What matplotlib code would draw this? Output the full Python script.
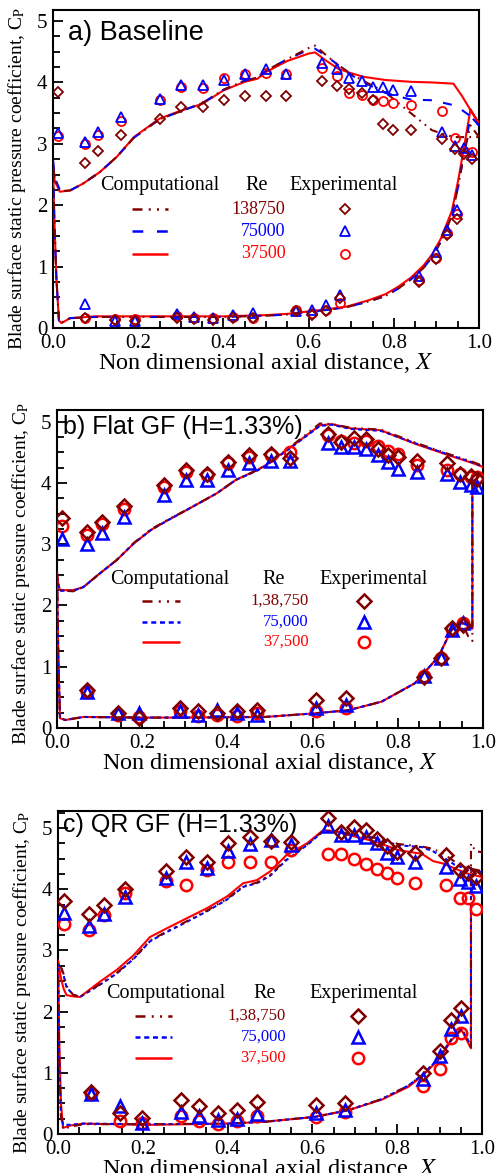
import numpy as np
import matplotlib
matplotlib.use('Agg')
import matplotlib.pyplot as plt
from matplotlib.ticker import MultipleLocator, FormatStrFormatter

plt.rcParams['font.family'] = ['Liberation Serif', 'DejaVu Serif']
plt.rcParams['mathtext.fontset'] = 'stix'

MAROON = '#800000'
BLUE = '#0000FF'
RED = '#FF0000'
NAN = np.nan

RE_LABELS_A = ['138750', '75000', '37500']
RE_LABELS_BC = ['1,38,750', '75,000', '37,500']
TITLES = ['a) Baseline', 'b) Flat GF (H=1.33%)', 'c) QR GF (H=1.33%)']

# ---------------- Panel a : computational ----------------
A_UP_X = [0.0, 0.004, 0.016, 0.04, 0.07, 0.11, 0.15, 0.19, 0.25, 0.30, 0.35, 0.40, 0.45, 0.48,
          0.50, 0.55, 0.60, 0.615, 0.64, 0.67, 0.70, 0.73, 0.78, 0.84, 0.89, 0.94, 0.96, 0.98, 1.0]
A_UP_138750 = [2.70, 2.42, 2.23, 2.24, 2.35, 2.54, 2.79, 3.10, 3.40, 3.53, 3.66, 3.88, 4.03, 4.08,
               4.19, 4.38, 4.56, 4.60, 4.45, 4.28, 4.14, 4.02, 3.84, 3.50, 3.22, 3.11, 3.11, 3.11, 3.11]
A_UP_75000 = [2.75, 2.45, 2.25, 2.24, 2.35, 2.54, 2.79, 3.10, 3.40, 3.53, 3.66, 3.88, 4.03, 4.08,
              4.19, 4.38, 4.53, 4.55, 4.44, 4.28, 4.12, 4.00, 3.83, 3.72, 3.71, 3.63, 3.55, 3.45, 3.30]
A_UP_37500 = [2.68, 2.40, 2.22, 2.24, 2.35, 2.54, 2.79, 3.11, 3.41, 3.54, 3.65, 3.87, 4.01, 4.06,
              4.17, 4.35, 4.47, 4.49, 4.36, 4.22, 4.15, 4.09, 4.04, 4.01, 4.00, 3.98, 3.78, 3.55, 3.33]
A_LO_X = [0.0, 0.003, 0.008, 0.014, 0.02, 0.04, 0.10, 0.20, 0.30, 0.40, 0.50, 0.55, 0.60, 0.65,
          0.69, 0.74, 0.78, 0.81, 0.84, 0.87, 0.89, 0.91, 0.936, 0.951, 0.965, 0.98, 1.0]
A_LO_138750 = [2.70, 1.8, 0.8, 0.12, 0.09, 0.16, 0.18, 0.18, 0.18, 0.18, 0.20, 0.22, 0.26, 0.30,
               0.34, 0.43, 0.52, 0.64, 0.79, 0.98, 1.16, 1.40, 1.82, 2.30, 2.85, 3.30, 3.11]
A_LO_75000 = [2.75, 1.8, 0.8, 0.12, 0.09, 0.16, 0.18, 0.18, 0.18, 0.18, 0.20, 0.22, 0.26, 0.30,
              0.34, 0.43, 0.52, 0.64, 0.79, 0.98, 1.16, 1.40, 1.82, 2.30, 2.85, 3.45, 3.30]
A_LO_37500 = [2.68, 1.8, 0.8, 0.12, 0.08, 0.16, 0.19, 0.19, 0.19, 0.19, 0.21, 0.23, 0.27, 0.31,
              0.35, 0.45, 0.55, 0.67, 0.82, 1.02, 1.20, 1.45, 1.90, 2.40, 2.95, 3.56, 3.33]

# ---------------- Panel a : experimental ----------------
A_EXP_UP_X = [0.012, 0.074, 0.106, 0.159, 0.251, 0.300, 0.351, 0.401, 0.451, 0.499, 0.546, 0.632,
              0.667, 0.696, 0.725, 0.750, 0.774, 0.799, 0.841, 0.912, 0.944, 0.965, 0.983]
A_EXP_UP_138750 = [3.85, 2.69, 2.88, 3.14, 3.41, 3.60, 3.60, 3.71, 3.78, 3.78, 3.78, 4.03,
                   3.95, 3.90, 3.82, 3.71, 3.32, 3.22, 3.23, 3.08, 2.92, 2.83, 2.76]
A_EXP_UP_75000 = [3.17, 3.03, 3.19, 3.44, 3.73, 3.96, 3.96, 4.04, 4.13, 4.22, 4.13, 4.32,
                  4.22, 4.07, 4.02, 3.93, 3.93, 3.88, 3.86, 3.19, 2.96, 2.94, 2.81]
A_EXP_UP_37500 = [3.12, 2.99, 3.15, 3.38, 3.72, 3.92, 3.91, 4.07, 4.13, 4.15, 4.13, 4.23,
                  4.11, 3.83, 3.79, 3.71, 3.70, 3.67, 3.63, 3.53, 3.09, 2.88, 2.87]
A_EXP_LO_X = [0.075, 0.146, 0.192, 0.290, 0.331, 0.376, 0.422, 0.470, 0.570, 0.607, 0.642, 0.674,
              0.859, 0.899, 0.926, 0.949]
A_EXP_LO_138750 = [0.16, 0.13, 0.11, 0.16, 0.14, 0.13, 0.16, 0.16, 0.27, 0.21, 0.27, 0.49,
                   0.75, 1.12, 1.51, 1.78]
A_EXP_LO_75000 = [0.39, 0.11, 0.11, 0.22, 0.18, 0.17, 0.21, 0.24, 0.27, 0.29, 0.37, 0.53,
                  0.85, 1.23, 1.60, 1.93]
A_EXP_LO_37500 = [0.16, 0.14, 0.14, 0.20, 0.17, 0.17, 0.18, 0.17, 0.29, 0.24, 0.29, 0.41,
                  0.79, 1.14, 1.55, 1.86]

# ---------------- Panel b : computational ----------------
B_UP_X = [0.0, 0.003, 0.007, 0.038, 0.062, 0.10, 0.14, 0.18, 0.22, 0.26, 0.31, 0.375, 0.42, 0.47,
          0.49, 0.55, 0.617, 0.645, 0.69, 0.76, 0.84, 0.92, 0.973, 1.0]
B_UP_138750 = [2.55, 2.35, 2.25, 2.23, 2.30, 2.52, 2.74, 3.02, 3.24, 3.40, 3.58, 3.83, 4.05, 4.21,
               4.29, 4.60, 4.97, 4.96, 4.90, 4.87, 4.66, 4.47, 4.35, 4.28]
B_UP_75000 = [2.45, 2.33, 2.24, 2.24, 2.30, 2.52, 2.74, 3.01, 3.23, 3.39, 3.58, 3.83, 4.05, 4.20,
              4.28, 4.58, 4.93, 4.95, 4.88, 4.85, 4.65, 4.46, 4.34, 4.27]
B_UP_37500 = [2.52, 2.35, 2.25, 2.25, 2.30, 2.52, 2.74, 3.01, 3.23, 3.39, 3.58, 3.83, 4.05, 4.21,
              4.29, 4.59, 4.94, 4.96, 4.89, 4.86, 4.64, 4.45, 4.33, 4.26]
B_LO_X = [0.0, 0.003, 0.007, 0.019, 0.062, 0.20, 0.30, 0.488, 0.606, 0.684, 0.762, 0.84, 0.895,
          0.926, 0.95, 0.965, 0.975, 0.975]
B_LO_138750 = [2.55, 1.2, 0.18, 0.13, 0.18, 0.17, 0.17, 0.18, 0.24, 0.29, 0.43, 0.73, 1.16,
               1.60, 1.73, 1.50, 1.42, 4.00]
B_LO_75000 = [2.45, 1.2, 0.17, 0.13, 0.18, 0.17, 0.17, 0.18, 0.24, 0.29, 0.43, 0.73, 1.16,
              1.60, 1.72, 1.67, 1.62, 4.00]
B_LO_37500 = [2.52, 1.2, 0.16, 0.13, 0.18, 0.17, 0.17, 0.18, 0.24, 0.29, 0.43, 0.73, 1.16,
              1.60, 1.73, 1.68, 1.62, 3.93]

# ---------------- Panel b : experimental ----------------
B_EXP_UP_X = [0.011, 0.071, 0.106, 0.157, 0.251, 0.302, 0.351, 0.401, 0.451, 0.502, 0.547, 0.635,
              0.666, 0.697, 0.725, 0.754, 0.778, 0.801, 0.844, 0.916, 0.946, 0.971, 0.987]
B_EXP_UP_138750 = [3.43, 3.20, 3.36, 3.62, 3.96, 4.21, 4.14, 4.34, 4.45, 4.47, 4.40, 4.80,
                   4.67, 4.73, 4.71, 4.55, 4.45, 4.42, 4.36, 4.33, 4.15, 4.11, 4.07]
B_EXP_UP_75000 = [3.08, 3.01, 3.19, 3.45, 3.81, 4.05, 4.05, 4.21, 4.32, 4.36, 4.36, 4.65,
                  4.59, 4.59, 4.55, 4.45, 4.34, 4.22, 4.18, 4.14, 4.02, 3.96, 3.94]
B_EXP_UP_37500 = [3.30, 3.15, 3.33, 3.57, 3.94, 4.17, 4.13, 4.32, 4.42, 4.45, 4.50, 4.78,
                  4.68, 4.65, 4.68, 4.60, 4.52, 4.48, 4.30, 4.21, 4.15, 4.10, 4.10]
B_EXP_LO_X = [0.071, 0.144, 0.193, 0.289, 0.332, 0.376, 0.422, 0.469, 0.608, 0.678, 0.862, 0.901,
              0.928, 0.952]
B_EXP_LO_138750 = [0.62, 0.24, 0.17, 0.32, 0.28, 0.24, 0.28, 0.29, 0.45, 0.49, 0.84, 1.15, 1.63, 1.68]
B_EXP_LO_75000 = [0.58, 0.25, 0.25, 0.27, 0.22, 0.29, 0.24, 0.22, 0.32, 0.38, 0.85, 1.15, 1.60, 1.72]
B_EXP_LO_37500 = [0.58, 0.22, 0.18, 0.28, 0.20, 0.22, 0.20, 0.24, 0.28, 0.33, 0.85, 1.15, 1.62, 1.72]

# ---------------- Panel c : computational ----------------
C_UP_X = [0.0, 0.005, 0.009, 0.013, 0.02, 0.035, 0.052, 0.099, 0.138, 0.178, 0.217, 0.256, 0.296,
          0.351, 0.398, 0.437, 0.469, 0.50, 0.539, 0.587, 0.626, 0.66, 0.685, 0.748, 0.803, 0.858,
          0.885, 0.909, 0.936, 0.964, 1.0]
C_UP_138750 = [2.80, 2.74, 2.70, 2.62, 2.42, 2.28, 2.24, 2.45, 2.63, 2.87, 3.16, 3.31, 3.45,
               3.65, 3.84, 4.05, 4.11, 4.23, 4.50, 4.73, 4.96, 4.95, 4.91, 4.84, 4.74, 4.70,
               4.66, 4.58, 4.45, 4.35, 4.30]
C_UP_75000 = [2.78, 2.72, 2.68, 2.60, 2.40, 2.28, 2.24, 2.44, 2.62, 2.86, 3.15, 3.30, 3.44,
              3.64, 3.83, 4.04, 4.10, 4.22, 4.48, 4.72, 4.95, 4.94, 4.90, 4.83, 4.72, 4.69,
              4.62, 4.52, 4.40, 4.33, 4.28]
C_UP_37500 = [2.84, 2.62, 2.49, 2.38, 2.27, 2.25, 2.24, 2.49, 2.68, 2.92, 3.22, 3.36, 3.50,
              3.69, 3.88, 4.10, 4.15, 4.29, 4.56, 4.75, 4.97, 4.94, 4.89, 4.78, 4.64, 4.58,
              4.46, 4.42, 4.34, 4.26, 4.20]
C_LO_X = [0.0, 0.003, 0.007, 0.012, 0.03, 0.06, 0.217, 0.40, 0.488, 0.606, 0.685, 0.763, 0.826,
          0.858, 0.897, 0.929, 0.952, 0.968, 0.974, 0.974, 0.985, 1.01]
C_LO_138750 = [2.80, 1.2, 0.3, 0.08, 0.12, 0.16, 0.16, 0.17, 0.20, 0.28, 0.39, 0.57, 0.79,
               0.96, 1.23, 1.56, 1.72, 1.52, 1.42, 4.75, 4.62, 4.60]
C_LO_75000 = [2.78, 1.2, 0.3, 0.15, 0.15, 0.17, 0.16, 0.17, 0.20, 0.28, 0.39, 0.57, 0.79,
              0.96, 1.23, 1.56, 1.72, 1.52, 1.45, 4.37, NAN, NAN]
C_LO_37500 = [2.84, 1.5, 0.5, 0.10, 0.14, 0.17, 0.15, 0.17, 0.20, 0.28, 0.39, 0.56, 0.77,
              0.94, 1.21, 1.54, 1.70, 1.48, 1.40, 3.63, NAN, NAN]

# ---------------- Panel c : experimental ----------------
C_EXP_UP_X = [0.015, 0.072, 0.108, 0.158, 0.254, 0.302, 0.351, 0.402, 0.453, 0.502, 0.550, 0.636,
              0.667, 0.699, 0.726, 0.752, 0.775, 0.799, 0.842, 0.915, 0.947, 0.968, 0.987]
C_EXP_UP_138750 = [3.81, 3.59, 3.75, 4.00, 4.30, 4.53, 4.45, 4.75, 4.86, 4.79, 4.78, 5.17,
                   4.94, 5.02, 4.97, 4.83, 4.71, 4.61, 4.59, 4.56, 4.31, 4.27, 4.20]
C_EXP_UP_75000 = [3.62, 3.40, 3.59, 3.88, 4.18, 4.45, 4.35, 4.62, 4.74, 4.80, 4.73, 5.03,
                  4.88, 4.88, 4.86, 4.75, 4.60, 4.52, 4.45, 4.37, 4.17, 4.12, 4.05]
C_EXP_UP_37500 = [3.43, 3.33, 3.58, 3.94, 4.14, 4.07, 4.31, 4.45, 4.45, 4.45, 4.64, 4.58,
                  4.57, 4.50, 4.42, 4.33, 4.26, 4.18, 4.11, 4.07, 3.86, 3.86, 3.68]
C_EXP_LO_X = [0.078, 0.146, 0.197, 0.290, 0.333, 0.378, 0.423, 0.470, 0.608, 0.677, 0.860, 0.901,
              0.928, 0.950]
C_EXP_LO_138750 = [0.68, 0.35, 0.26, 0.56, 0.45, 0.35, 0.39, 0.53, 0.47, 0.50, 1.00, 1.36, 1.87, 2.06]
C_EXP_LO_75000 = [0.65, 0.45, 0.18, 0.36, 0.29, 0.23, 0.25, 0.33, 0.35, 0.40, 0.90, 1.27, 1.72, 1.93]
C_EXP_LO_37500 = [0.65, 0.22, 0.18, 0.30, 0.22, 0.17, 0.22, 0.30, 0.28, 0.36, 0.78, 1.07, 1.57, 1.65]

# ---------------- figure ----------------
W, H = 498, 1173
fig = plt.figure(figsize=(W / 100, H / 100), dpi=100)

COLORS = [MAROON, BLUE, RED]
MARKERS = ['D', '^', 'o']

panels = [
    dict(rect=[53, 10, 479, 328], ylim=5.18, title=TITLES[0], tfs=19.5, re=RE_LABELS_A,
         up_x=A_UP_X, up=[A_UP_138750, A_UP_75000, A_UP_37500],
         lo_x=A_LO_X, lo=[A_LO_138750, A_LO_75000, A_LO_37500],
         eu_x=A_EXP_UP_X, eu=[A_EXP_UP_138750, A_EXP_UP_75000, A_EXP_UP_37500],
         el_x=A_EXP_LO_X, el=[A_EXP_LO_138750, A_EXP_LO_75000, A_EXP_LO_37500],
         styles=[(0, (4, 2.5, 0.8, 2.5, 0.8, 2.5)), (0, (4.3, 5.5)), '-'],
         ms=[5.6, 6.8, 6.5], mew=1.3,
         leg=dict(hx=0.110, hy=0.447, rex=0.478, ex=0.555, rows=[0.373, 0.305, 0.233],
                  lx=(0.185, 0.271), nx=0.546, mx=0.685, nfs=13),
         tx=0.036, ty=0.929, ylx=-0.058, yly=0.469),
    dict(rect=[57, 410, 483, 728], ylim=5.19, title=TITLES[1], tfs=18, re=RE_LABELS_BC,
         up_x=B_UP_X, up=[B_UP_138750, B_UP_75000, B_UP_37500],
         lo_x=B_LO_X, lo=[B_LO_138750, B_LO_75000, B_LO_37500],
         eu_x=B_EXP_UP_X, eu=[B_EXP_UP_138750, B_EXP_UP_75000, B_EXP_UP_37500],
         el_x=B_EXP_LO_X, el=[B_EXP_LO_138750, B_EXP_LO_75000, B_EXP_LO_37500],
         styles=[(0, (4, 2.5, 0.8, 2.5, 0.8, 2.5)), (0, (2, 1.5)), '-'],
         ms=[7.6, 9.0, 8.2], mew=1.8,
         leg=dict(hx=0.124, hy=0.468, rex=0.509, ex=0.616, rows=[0.400, 0.334, 0.271],
                  lx=(0.199, 0.289), nx=0.590, mx=0.721, nfs=12),
         tx=0.015, ty=0.947, ylx=-0.059, yly=0.487),
    dict(rect=[58, 811, 482, 1134], ylim=5.28, title=TITLES[2], tfs=18, re=RE_LABELS_BC,
         up_x=C_UP_X, up=[C_UP_138750, C_UP_75000, C_UP_37500],
         lo_x=C_LO_X, lo=[C_LO_138750, C_LO_75000, C_LO_37500],
         eu_x=C_EXP_UP_X, eu=[C_EXP_UP_138750, C_EXP_UP_75000, C_EXP_UP_37500],
         el_x=C_EXP_LO_X, el=[C_EXP_LO_138750, C_EXP_LO_75000, C_EXP_LO_37500],
         styles=[(0, (4, 2.5, 0.8, 2.5, 0.8, 2.5)), (0, (2, 1.5)), '-'],
         ms=[7.6, 9.0, 8.2], mew=1.8,
         leg=dict(hx=0.113, hy=0.436, rex=0.487, ex=0.593, rows=[0.365, 0.301, 0.236],
                  lx=(0.182, 0.268), nx=0.538, mx=0.708, nfs=12),
         tx=0.0125, ty=0.957, ylx=-0.059, yly=0.469),
]

for p in panels:
    l, t, r, b = p['rect']
    ax = fig.add_axes([l / W, 1 - b / H, (r - l) / W, (b - t) / H])
    ax.set_xlim(0, 1.0)
    ax.set_ylim(0, p['ylim'])

    for i in range(3):
        x = list(p['lo_x'][::-1]) + list(p['up_x'])
        y = list(p['lo'][i][::-1]) + list(p['up'][i])
        ax.plot(x, y, color=COLORS[i], lw=1.5, linestyle=p['styles'][i], zorder=3 - i * 0.1,
                solid_capstyle='butt')
    for i in range(3):
        for ex, ey in ((p['eu_x'], p['eu'][i]), (p['el_x'], p['el'][i])):
            ax.plot(ex, ey, linestyle='none', marker=MARKERS[i], ms=p['ms'][i],
                    mfc='none', mec=COLORS[i], mew=p['mew'], zorder=5 - i * 0.1)

    # axes styling
    for s in ax.spines.values():
        s.set_linewidth(1.5)
    ax.xaxis.set_major_locator(MultipleLocator(0.2))
    ax.xaxis.set_minor_locator(MultipleLocator(0.05))
    ax.yaxis.set_major_locator(MultipleLocator(1))
    ax.yaxis.set_minor_locator(MultipleLocator(0.25))
    ax.xaxis.set_major_formatter(FormatStrFormatter('%.1f'))
    ax.yaxis.set_major_formatter(FormatStrFormatter('%d'))
    ax.tick_params(which='both', direction='in', top=False, right=False, width=1.3)
    ax.tick_params(which='major', length=7, labelsize=15, pad=4)
    ax.tick_params(which='minor', length=5)

    ax.set_xlabel('Non dimensional axial distance, $X$', fontsize=17.5, labelpad=-1)
    ax.set_ylabel('Blade surface static pressure coefficient, C$_\\mathrm{P}$', fontsize=14)
    ax.yaxis.set_label_coords(p['ylx'], p['yly'])

    ax.text(p['tx'], p['ty'], p['title'], transform=ax.transAxes, fontsize=p['tfs'],
            family='Liberation Sans', ha='left', va='center')

    # custom legend table
    lg = p['leg']
    ax.text(lg['hx'], lg['hy'], 'Computational', transform=ax.transAxes, fontsize=14.5,
            ha='left', va='center')
    ax.text(lg['rex'], lg['hy'], 'Re', transform=ax.transAxes, fontsize=14.5,
            ha='center', va='center')
    ax.text(lg['ex'], lg['hy'], 'Experimental', transform=ax.transAxes, fontsize=14.5,
            ha='left', va='center')
    for i in range(3):
        yy = lg['rows'][i]
        ax.plot(lg['lx'], [yy, yy], transform=ax.transAxes, color=COLORS[i], lw=1.8,
                linestyle=p['styles'][i], solid_capstyle='butt')
        ax.text(lg['nx'], yy, p['re'][i], transform=ax.transAxes, fontsize=lg['nfs'],
                color=COLORS[i], ha='right', va='center')
        ax.plot([lg['mx']], [yy], transform=ax.transAxes, linestyle='none',
                marker=MARKERS[i], ms=p['ms'][i], mfc='none', mec=COLORS[i], mew=p['mew'])

fig.savefig('out.png', dpi=100)
